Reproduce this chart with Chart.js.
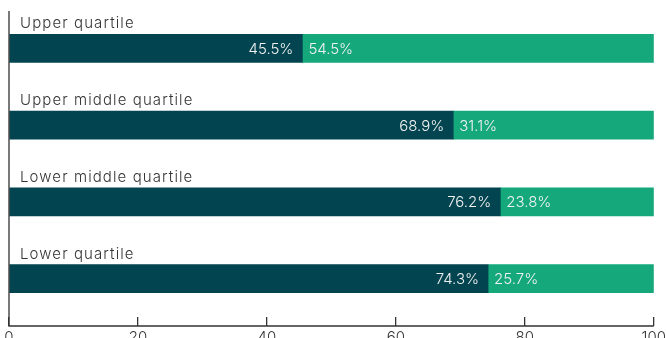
<!DOCTYPE html>
<html>
<head>
<meta charset="utf-8">
<script src="https://cdn.jsdelivr.net/npm/chart.js@4/dist/chart.umd.min.js"></script>
<style>
  html, body { margin: 0; padding: 0; background: #fff; overflow: hidden; }
  #wrap { position: relative; width: 668px; height: 338px; }
</style>
</head>
<body>
<div id="wrap"><canvas id="c"></canvas></div>
<script>
// Share of staff in each pay quartile
const quartiles = ['Upper quartile', 'Upper middle quartile', 'Lower middle quartile', 'Lower quartile'];
const groupA = [45.5, 68.9, 76.2, 74.3];
const groupB = [54.5, 31.1, 23.8, 25.7];
const xTicks = [0, 20, 40, 60, 80, 100];

const DARK = '#02444f';
const GREEN = '#14a87b';
const INK = '#333333';
const FONT = 'Inter, "Noto Sans", sans-serif';
const TICK_LEN = 9;

// Axis lines: the bottom line sits at the end of the tick marks, the left line runs down to it
const axisLines = {
  id: 'axisLines',
  afterDraw(chart) {
    const { ctx, chartArea, scales } = chart;
    const x0 = scales.x.getPixelForValue(0);
    const x1 = scales.x.getPixelForValue(100);
    const yb = chartArea.bottom + TICK_LEN;
    ctx.save();
    ctx.strokeStyle = INK;
    ctx.lineWidth = 1.3;
    ctx.beginPath();
    ctx.moveTo(x0, chartArea.top + 1);
    ctx.lineTo(x0, yb);
    ctx.lineTo(x1, yb);
    ctx.stroke();
    ctx.restore();
  }
};

// Category names above each bar and percentage labels inside the segments
const barText = {
  id: 'barText',
  afterDatasetsDraw(chart) {
    const { ctx, chartArea } = chart;
    ctx.save();
    const m0 = chart.getDatasetMeta(0);
    const m1 = chart.getDatasetMeta(1);
    m0.data.forEach((el, i) => {
      const h = el.height;
      ctx.font = '300 15px ' + FONT;
      ctx.letterSpacing = '1.1px';
      ctx.fillStyle = INK;
      ctx.textAlign = 'left';
      ctx.textBaseline = 'alphabetic';
      ctx.fillText(quartiles[i], chartArea.left + 11, el.y - h / 2 - 6);

      ctx.letterSpacing = '0px';
      ctx.fillStyle = '#f2f2f2';
      ctx.textBaseline = 'middle';
      ctx.textAlign = 'right';
      ctx.fillText(groupA[i].toFixed(1) + '%', el.x - 9, el.y + 1);
      const g = m1.data[i];
      ctx.textAlign = 'left';
      ctx.fillText(groupB[i].toFixed(1) + '%', g.base + 6, g.y + 1);
    });
    ctx.restore();
  }
};

new Chart(document.getElementById('c'), {
  type: 'bar',
  data: {
    labels: quartiles,
    datasets: [
      { label: 'A', data: groupA, backgroundColor: DARK, barThickness: 28 },
      { label: 'B', data: groupB, backgroundColor: GREEN, barThickness: 28 }
    ]
  },
  options: {
    indexAxis: 'y',
    responsive: true,
    maintainAspectRatio: false,
    animation: false,
    devicePixelRatio: 1,
    layout: { padding: { left: 9, top: 10, right: 0, bottom: 0 } },
    plugins: { legend: { display: false }, tooltip: { enabled: false } },
    scales: {
      x: {
        stacked: true,
        min: 0,
        max: 100,
        afterBuildTicks(scale) { scale.ticks = xTicks.map(v => ({ value: v })); },
        afterFit(scale) { scale.height = 21; },
        border: { display: false },
        grid: { drawOnChartArea: false, drawTicks: true, tickLength: TICK_LEN, color: INK, lineWidth: 1.3 },
        ticks: { color: INK, font: { family: FONT, size: 15, weight: 300 }, padding: 2, maxRotation: 0 }
      },
      y: {
        stacked: true,
        display: false
      }
    }
  },
  plugins: [axisLines, barText]
});
</script>
</body>
</html>
